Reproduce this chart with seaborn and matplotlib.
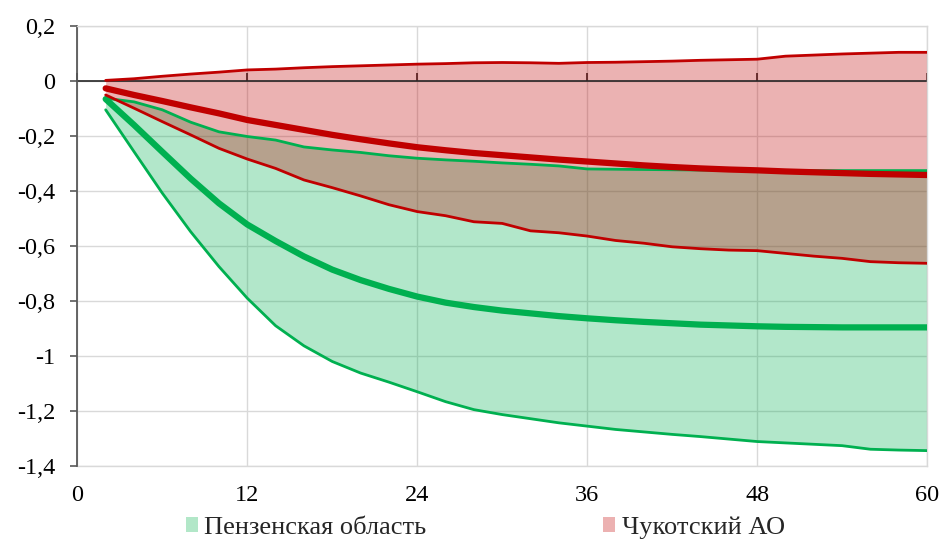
import matplotlib
matplotlib.use("Agg")
import matplotlib.pyplot as plt
import seaborn as sns
import pandas as pd
from matplotlib.patches import Patch
from matplotlib.ticker import FuncFormatter, MultipleLocator

# ---- data ----
months = list(range(2, 61, 2))

penza_hi = [-0.063, -0.076, -0.105, -0.150, -0.185, -0.202, -0.215, -0.240, -0.251, -0.260,
            -0.272, -0.281, -0.287, -0.292, -0.298, -0.303, -0.309, -0.320, -0.321, -0.322,
            -0.323, -0.324, -0.325, -0.325, -0.326, -0.326, -0.326, -0.326, -0.326, -0.326]
penza_mid = [-0.066, -0.160, -0.258, -0.355, -0.445, -0.522, -0.582, -0.638, -0.686, -0.724,
             -0.756, -0.784, -0.806, -0.822, -0.835, -0.845, -0.855, -0.863, -0.870, -0.876,
             -0.881, -0.886, -0.889, -0.892, -0.894, -0.895, -0.896, -0.896, -0.896, -0.896]
penza_lo = [-0.105, -0.257, -0.408, -0.548, -0.675, -0.790, -0.890, -0.963, -1.020, -1.062,
            -1.095, -1.130, -1.166, -1.195, -1.213, -1.228, -1.243, -1.255, -1.267, -1.276,
            -1.285, -1.293, -1.302, -1.311, -1.316, -1.321, -1.326, -1.339, -1.342, -1.344]

chuk_hi = [0.002, 0.008, 0.017, 0.025, 0.032, 0.040, 0.043, 0.048, 0.052, 0.055,
           0.058, 0.061, 0.063, 0.066, 0.067, 0.066, 0.064, 0.067, 0.068, 0.070,
           0.072, 0.075, 0.077, 0.079, 0.090, 0.094, 0.098, 0.101, 0.104, 0.104]
chuk_mid = [-0.027, -0.051, -0.073, -0.096, -0.118, -0.142, -0.160, -0.178, -0.196, -0.212,
            -0.227, -0.241, -0.252, -0.262, -0.270, -0.278, -0.286, -0.293, -0.300, -0.307,
            -0.313, -0.318, -0.322, -0.325, -0.329, -0.332, -0.335, -0.338, -0.340, -0.342]
chuk_lo = [-0.051, -0.099, -0.148, -0.196, -0.245, -0.284, -0.318, -0.360, -0.388, -0.418,
           -0.450, -0.475, -0.490, -0.512, -0.518, -0.545, -0.552, -0.564, -0.580, -0.590,
           -0.603, -0.610, -0.615, -0.617, -0.627, -0.637, -0.645, -0.657, -0.661, -0.663]

labels = ["Пензенская область", "Чукотский АО"]
x_ticks = [0, 12, 24, 36, 48, 60]

GREEN = "#00B050"
RED = "#C00000"
GREEN_FILL = "#B2E7C8"
RED_FILL = "#ECB1B1"

df = pd.DataFrame({"x": months,
                   "p_hi": penza_hi, "p_mid": penza_mid, "p_lo": penza_lo,
                   "c_hi": chuk_hi, "c_mid": chuk_mid, "c_lo": chuk_lo})

sns.set_theme(style="white")
plt.rcParams["font.family"] = ["Liberation Serif", "DejaVu Serif"]

fig = plt.figure(figsize=(9.41, 5.40), dpi=100)
ax = fig.add_axes([0.0822, 0.137, 0.9030, 0.815])

# bands
ax.fill_between(df["x"], df["p_lo"], df["p_hi"], color=GREEN, alpha=0.30, lw=0, zorder=1)
ax.fill_between(df["x"], df["c_lo"], df["c_hi"], color=RED, alpha=0.30, lw=0, zorder=1.1)

# lines
line_kw = dict(solid_capstyle="round", solid_joinstyle="round")
for col, lw in [("p_hi", 2.0), ("p_lo", 2.0), ("p_mid", 4.5)]:
    sns.lineplot(data=df, x="x", y=col, ax=ax, color=GREEN, lw=lw, zorder=3, **line_kw)
for col, lw in [("c_hi", 2.0), ("c_lo", 2.0), ("c_mid", 4.5)]:
    sns.lineplot(data=df, x="x", y=col, ax=ax, color=RED, lw=lw, zorder=4, **line_kw)

ax.set_xlim(0, 60)
ax.set_ylim(-1.4, 0.2)
ax.set_xlabel("")
ax.set_ylabel("")

ax.yaxis.set_major_locator(MultipleLocator(0.2))
ax.yaxis.set_major_formatter(FuncFormatter(lambda v, p: f"{round(v, 1):g}".replace(".", ",").replace("−", "-")))
ax.set_xticks(x_ticks)

ax.grid(True, color="#D9D9D9", lw=1.0, zorder=0)
ax.set_axisbelow(True)

for s in ["top", "right"]:
    ax.spines[s].set_color("#D9D9D9")
    ax.spines[s].set_linewidth(1.0)
ax.spines["left"].set_color("#595959")
ax.spines["left"].set_linewidth(1.3)

# zero axis line with upward ticks
ax.spines["bottom"].set_position(("data", 0))
ax.spines["bottom"].set_color("#262626")
ax.spines["bottom"].set_linewidth(1.2)
ax.spines["bottom"].set_zorder(2)
ax.tick_params(axis="x", direction="in", length=6, width=1.2, color="#262626",
               labelbottom=False, bottom=True)
ax.tick_params(axis="y", direction="out", length=5, width=1.2, color="#595959",
               left=True, labelsize=17.5, pad=11, labelcolor="black")

# bottom labels via secondary axis
sec = ax.secondary_xaxis("bottom")
sec.set_xticks(x_ticks)
sec.tick_params(axis="x", length=0, labelsize=17.5, pad=14, labelcolor="black")
sec.spines["bottom"].set_color("#D9D9D9")
sec.spines["bottom"].set_linewidth(1.0)

handles = [Patch(facecolor=GREEN_FILL, edgecolor="none"),
           Patch(facecolor=RED_FILL, edgecolor="none")]
fig.legend(handles, labels, loc="lower left", bbox_to_anchor=(186 / 941, 0.002), ncol=2,
           frameon=False, fontsize=19, handlelength=0.45, handleheight=0.45,
           handletextpad=0.25, columnspacing=6.7, borderpad=0, borderaxespad=0)

fig.savefig("out.png", dpi=100)
